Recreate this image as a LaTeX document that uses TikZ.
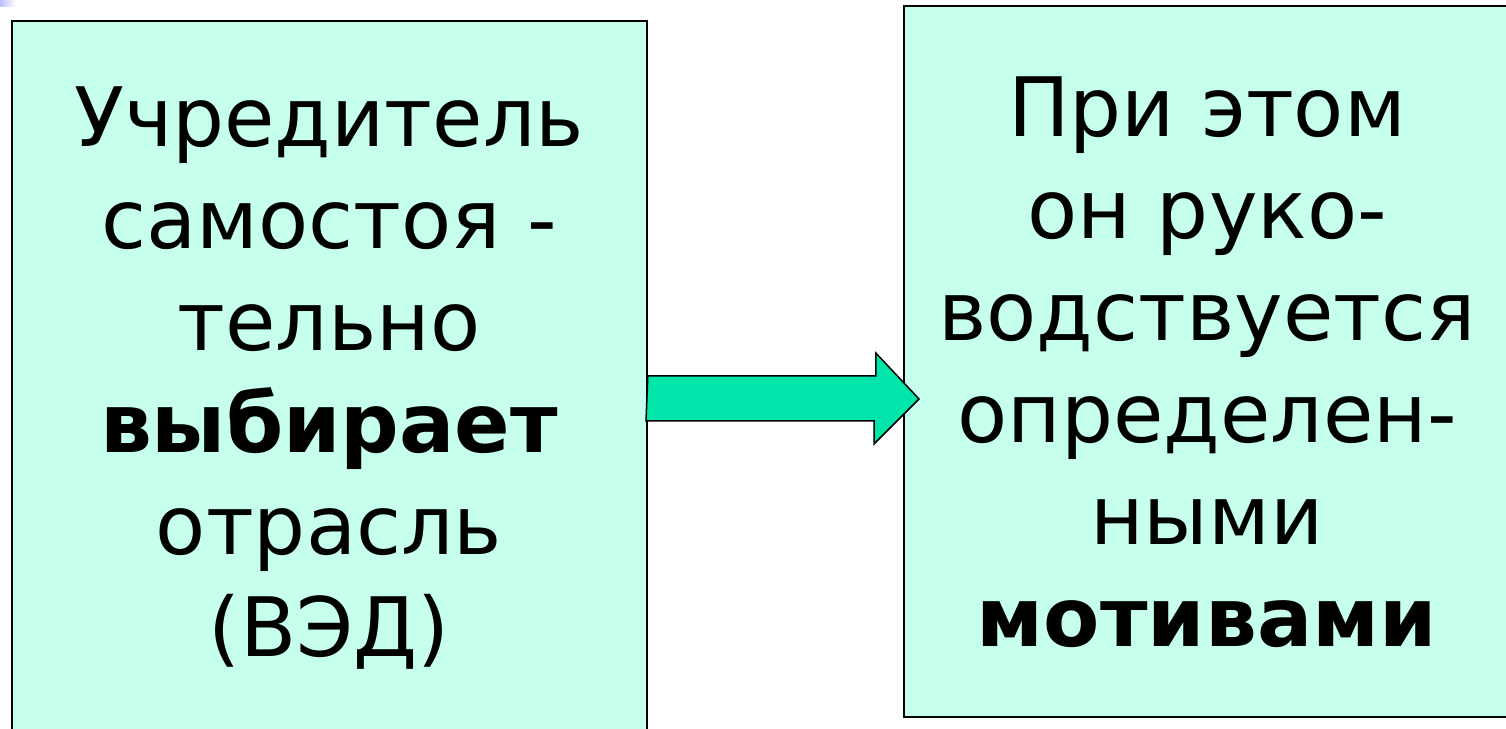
\documentclass[tikz,border=0pt]{standalone}
\usepackage{fontspec}
\setmainfont{DejaVu Sans}
\definecolor{boxfill}{HTML}{C6FFEE}
\definecolor{arrowfill}{HTML}{00E5AA}
\begin{document}
\begin{tikzpicture}[
        x=1pt, y=1pt,
        box/.style={draw=black, line width=1.8pt, fill=boxfill},
        boxtext/.style={align=center, inner sep=0pt, font=\fontsize{82}{102}\selectfont},
    ]
        \useasboundingbox (0,0) rectangle (1506,728);
        \clip (0,0) rectangle (1506,728);
        \shade[left color=blue!25, right color=white] (0,721) rectangle (16,728);

        \node[box, anchor=north west, minimum width=635, minimum height=720] (leftbox) at (11,708) {};
        \node[box, anchor=north west, minimum width=620, minimum height=711] (rightbox) at (903,723) {};

        \node[boxtext] (founder) at (329,350) {Учредитель\\самостоя -\\тельно\\\textbf{выбирает}\\отрасль\\(ВЭД)};
        \node[boxtext] (motives) at (1207,366) {При этом\\он руко-\\водствуется\\определен-\\ными\\\textbf{мотивами}};

        \coordinate (tail) at (leftbox.east |- 0,329);
        \coordinate (tip) at (919,329);
        \draw[fill=arrowfill, line width=1.5pt] (tail) ++(0,23) -- ++(228,0) -- ++(0,23) -- (tip)
            -- ++(-45,-45) -- ++(0,23) -- ++(-228,0) -- cycle;
    \end{tikzpicture}
\end{document}
